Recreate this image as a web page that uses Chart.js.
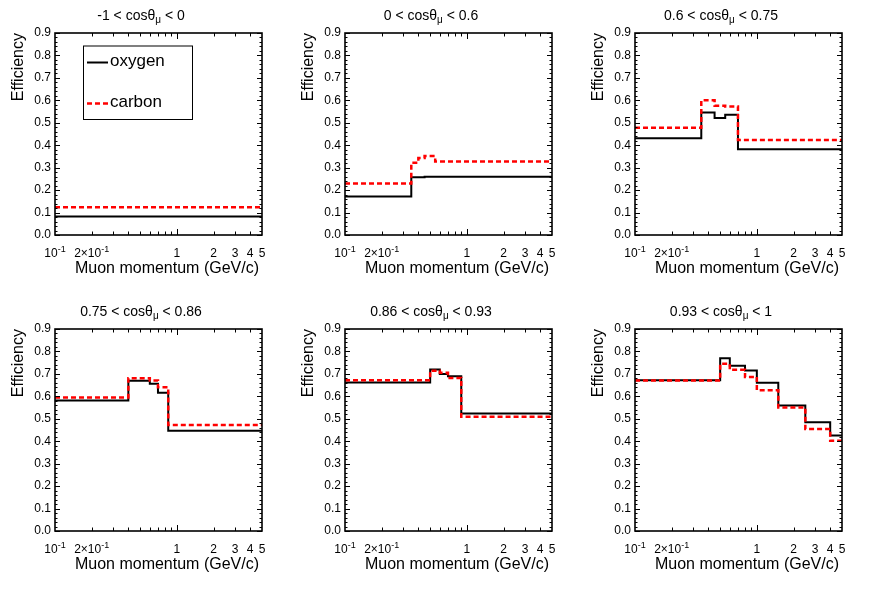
<!DOCTYPE html>
<html>
<head>
<meta charset="utf-8">
<script src="https://cdn.jsdelivr.net/npm/chart.js@4.4.1/dist/chart.umd.min.js"></script>
<style>
body { margin: 0; background: #fff; }
#wrap { position: relative; width: 872px; height: 591px; }
#wrap canvas { position: absolute; }
</style>
</head>
<body>
<div id="wrap"></div>
<script>
// cos(theta_mu) ranges of the six panels
var cosLow  = ["-1", "0", "0.6", "0.75", "0.86", "0.93"];
var cosHigh = ["0", "0.6", "0.75", "0.86", "0.93", "1"];

// bin edges (GeV/c) and efficiencies
var edges1  = [0.1, 5];
var oxygen1 = [0.082];
var carbon1 = [0.124];

var edges2  = [0.1, 0.35, 0.4, 0.45, 0.55, 5];
var oxygen2 = [0.171, 0.257, 0.257, 0.26, 0.26];
var carbon2 = [0.23, 0.322, 0.343, 0.352, 0.327];

var edges3  = [0.1, 0.35, 0.45, 0.55, 0.7, 5];
var oxygen3 = [0.431, 0.546, 0.521, 0.536, 0.382];
var carbon3 = [0.478, 0.600, 0.576, 0.572, 0.423];

var edges4  = [0.1, 0.4, 0.6, 0.7, 0.85, 5];
var oxygen4 = [0.581, 0.669, 0.656, 0.616, 0.447];
var carbon4 = [0.595, 0.681, 0.671, 0.640, 0.472];

var edges5  = [0.1, 0.5, 0.6, 0.7, 0.9, 5];
var oxygen5 = [0.662, 0.720, 0.699, 0.689, 0.524];
var carbon5 = [0.672, 0.714, 0.705, 0.682, 0.509];

var edges6  = [0.1, 0.5, 0.6, 0.8, 1.0, 1.5, 2.5, 4.0, 5];
var oxygen6 = [0.672, 0.770, 0.736, 0.715, 0.660, 0.559, 0.484, 0.425];
var carbon6 = [0.670, 0.745, 0.718, 0.686, 0.627, 0.550, 0.455, 0.402];

var allEdges  = [edges1, edges2, edges3, edges4, edges5, edges6];
var allOxygen = [oxygen1, oxygen2, oxygen3, oxygen4, oxygen5, oxygen6];
var allCarbon = [carbon1, carbon2, carbon3, carbon4, carbon5, carbon6];

// axis ticks
var xMinorTicks = [0.2, 0.3, 0.4, 0.5, 0.6, 0.7, 0.8, 0.9, 2, 3, 4];
var xMajorTicks = [1];
var xLabelValues = [0.1, 0.2, 1, 2, 3, 4, 5];
var xLabelBase   = ["10", "2\u00d710", "1", "2", "3", "4", "5"];
var xLabelSup    = ["-1", "-1", "", "", "", "", ""];

var FONT = "'Liberation Sans', Arial, Helvetica, sans-serif";

function stepPoints(edges, vals) {
    var pts = [];
    for (var i = 0; i < vals.length; i++) {
        pts.push({x: edges[i], y: vals[i]});
    }
    pts.push({x: edges[edges.length - 1], y: vals[vals.length - 1]});
    return pts;
}

var panelDeco = {
    id: 'panelDeco',
    afterDraw: function(chart, args, opts) {
        var ctx = chart.ctx;
        var a = chart.chartArea;
        var xs = chart.scales.x, ys = chart.scales.y;
        ctx.save();

        // inward ticks on all four sides
        ctx.strokeStyle = '#000';
        ctx.lineWidth = 1;
        ctx.beginPath();
        for (var i = 0; i <= 45; i++) {
            var py = Math.round(ys.getPixelForValue(i * 0.02)) + 0.5;
            var len = (i % 5 == 0) ? 5 : 2.5;
            ctx.moveTo(a.left, py); ctx.lineTo(a.left + len, py);
            ctx.moveTo(a.right, py); ctx.lineTo(a.right - len, py);
        }
        xMinorTicks.forEach(function(v) {
            var px = Math.round(xs.getPixelForValue(v)) + 0.5;
            ctx.moveTo(px, a.bottom); ctx.lineTo(px, a.bottom - 3.5);
            ctx.moveTo(px, a.top); ctx.lineTo(px, a.top + 3.5);
        });
        xMajorTicks.forEach(function(v) {
            var px = Math.round(xs.getPixelForValue(v)) + 0.5;
            ctx.moveTo(px, a.bottom); ctx.lineTo(px, a.bottom - 6);
            ctx.moveTo(px, a.top); ctx.lineTo(px, a.top + 6);
        });
        ctx.stroke();

        // frame
        ctx.lineWidth = 1.6;
        ctx.strokeRect(a.left, a.top, a.right - a.left, a.bottom - a.top);

        // x tick labels with superscripts
        ctx.fillStyle = '#000';
        ctx.textBaseline = 'alphabetic';
        ctx.textAlign = 'left';
        xLabelValues.forEach(function(v, k) {
            ctx.font = '12px ' + FONT;
            var wb = ctx.measureText(xLabelBase[k]).width;
            ctx.font = '9px ' + FONT;
            var ws = xLabelSup[k] ? ctx.measureText(xLabelSup[k]).width : 0;
            var px = xs.getPixelForValue(v);
            var x0 = px - (wb + ws) / 2;
            var by = a.bottom + 21.5;
            ctx.font = '12px ' + FONT;
            ctx.fillText(xLabelBase[k], x0, by);
            if (xLabelSup[k]) {
                ctx.font = '9px ' + FONT;
                ctx.fillText(xLabelSup[k], x0 + wb, by - 5);
            }
        });

        // axis titles
        ctx.font = '16px ' + FONT;
        ctx.textAlign = 'right';
        ctx.fillText('Muon momentum (GeV/c)', a.right - 3, a.bottom + 38);
        ctx.save();
        ctx.translate(a.left - 32, a.top);
        ctx.rotate(-Math.PI / 2);
        ctx.textAlign = 'right';
        ctx.textBaseline = 'alphabetic';
        ctx.fillText('Efficiency', 0, 0);
        ctx.restore();

        // panel title: low < cos(theta)_mu < high
        var n = opts.index;
        var pre = cosLow[n] + ' < cos\u03b8';
        var sub = '\u03bc';
        var post = ' < ' + cosHigh[n];
        ctx.textAlign = 'left';
        ctx.font = '14px ' + FONT;
        var w1 = ctx.measureText(pre).width;
        var w3 = ctx.measureText(post).width;
        ctx.font = '10px ' + FONT;
        var w2 = ctx.measureText(sub).width;
        var tx = a.left + 86 - (w1 + w2 + w3) / 2;
        var ty = a.top - 13;
        ctx.font = '14px ' + FONT;
        ctx.fillText(pre, tx, ty);
        ctx.font = '10px ' + FONT;
        ctx.fillText(sub, tx + w1, ty + 3);
        ctx.font = '14px ' + FONT;
        ctx.fillText(post, tx + w1 + w2, ty);

        // legend, first panel only
        if (n == 0) {
            var lx = a.left + 28, ly = a.top + 12.5;
            ctx.fillStyle = '#fff';
            ctx.fillRect(lx, ly, 109, 73.5);
            ctx.strokeStyle = '#000';
            ctx.lineWidth = 1;
            ctx.strokeRect(lx + 0.5, ly + 0.5, 109, 73.5);
            ctx.lineWidth = 2;
            ctx.beginPath();
            ctx.moveTo(lx + 4, ly + 17); ctx.lineTo(lx + 25, ly + 17);
            ctx.stroke();
            ctx.strokeStyle = '#ff0000';
            ctx.lineWidth = 2.5;
            ctx.setLineDash([5, 3]);
            ctx.beginPath();
            ctx.moveTo(lx + 4, ly + 58); ctx.lineTo(lx + 25, ly + 58);
            ctx.stroke();
            ctx.setLineDash([]);
            ctx.fillStyle = '#000';
            ctx.font = '17px ' + FONT;
            ctx.textBaseline = 'middle';
            ctx.textAlign = 'left';
            ctx.fillText('oxygen', lx + 27, ly + 16);
            ctx.fillText('carbon', lx + 27, ly + 57);
        }
        ctx.restore();
    }
};

var wrap = document.getElementById('wrap');
for (var p = 0; p < 6; p++) {
    var cv = document.createElement('canvas');
    cv.width = 290;
    cv.height = 296;
    cv.style.left = ((p % 3) * 290) + 'px';
    cv.style.top = (Math.floor(p / 3) * 296) + 'px';
    wrap.appendChild(cv);

    new Chart(cv.getContext('2d'), {
        type: 'line',
        data: {
            datasets: [{
                label: 'oxygen',
                data: stepPoints(allEdges[p], allOxygen[p]),
                stepped: 'before',
                borderColor: '#000',
                borderWidth: 2,
                pointRadius: 0,
                fill: false,
                order: 2
            }, {
                label: 'carbon',
                data: stepPoints(allEdges[p], allCarbon[p]),
                stepped: 'before',
                borderColor: '#ff0000',
                borderWidth: 2.5,
                borderDash: [5, 3],
                pointRadius: 0,
                fill: false,
                order: 1
            }]
        },
        options: {
            responsive: false,
            animation: false,
            devicePixelRatio: 1,
            layout: { padding: { top: 33, right: 28, left: 0, bottom: 0 } },
            plugins: {
                legend: { display: false },
                tooltip: { enabled: false },
                panelDeco: { index: p }
            },
            scales: {
                x: {
                    type: 'logarithmic',
                    min: 0.1,
                    max: 5,
                    grid: { display: false, drawTicks: false },
                    border: { display: false },
                    ticks: { display: false },
                    afterFit: function(s) { s.height = 61; }
                },
                y: {
                    type: 'linear',
                    min: 0,
                    max: 0.9,
                    grid: { display: false, drawTicks: false },
                    border: { display: false },
                    ticks: {
                        stepSize: 0.1,
                        padding: 4,
                        color: '#000',
                        font: { family: FONT, size: 12 },
                        callback: function(v) { return v.toFixed(1); }
                    },
                    afterFit: function(s) { s.width = 55; }
                }
            }
        },
        plugins: [panelDeco]
    });
}
</script>
</body>
</html>
